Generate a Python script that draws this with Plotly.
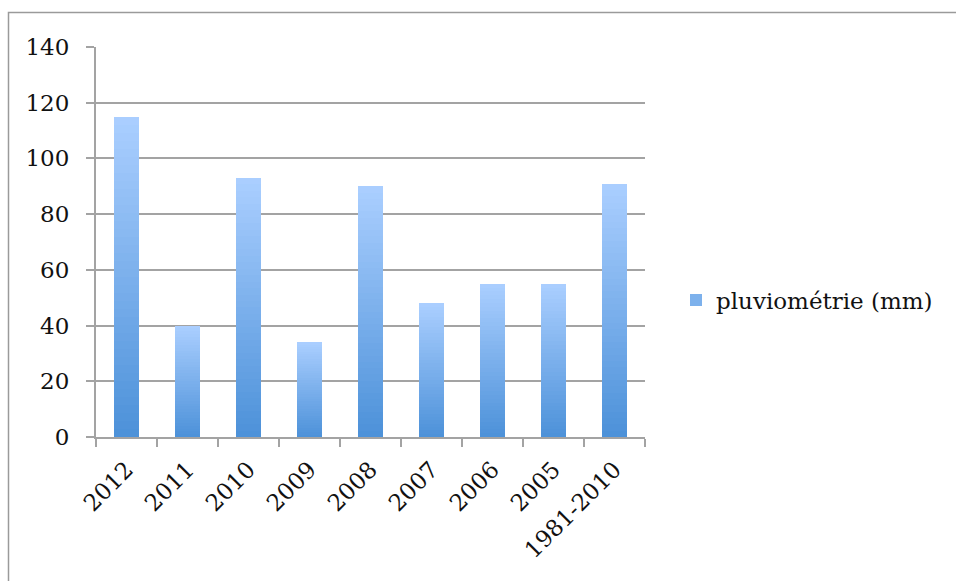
import plotly.graph_objects as go

categories = ["2012", "2011", "2010", "2009", "2008", "2007", "2006", "2005", "1981-2010"]
values = [115, 40, 93, 34, 90, 48, 55, 55, 91]
series_name = "pluviométrie (mm)"
y_ticks = [0, 20, 40, 60, 80, 100, 120, 140]

# gradient approximation: stack N equal slices per bar, dark at bottom, light at top
N = 40
bottom_rgb = (76, 145, 217)
top_rgb = (171, 207, 255)

def lerp(a, b, t):
    return tuple(round(a[i] + (b[i] - a[i]) * t) for i in range(3))

fig = go.Figure()
for k in range(N):
    t = (k + 0.5) / N
    c = lerp(bottom_rgb, top_rgb, t)
    fig.add_trace(go.Bar(
        x=categories,
        y=[v / N for v in values],
        marker=dict(color=f"rgb{c}", line=dict(width=0)),
        name=series_name,
        showlegend=(k == N // 2),
        hoverinfo="skip" if k != N - 1 else None,
    ))

ml, mr, mt, mb = 96, 311, 47, 144
W, H = 956, 581
pw, ph = W - ml - mr, H - mt - mb

def px_x(x):
    return (x - ml) / pw

def px_y(y):
    return (H - mb - y) / ph

grid = "#a3a3a3"
font_family = "DejaVu Serif"
fs = 23

fig.update_layout(
    width=W, height=H,
    margin=dict(l=ml, r=mr, t=mt, b=mb),
    paper_bgcolor="white", plot_bgcolor="white",
    barmode="stack", bargap=0.59,
    font=dict(family=font_family, size=fs, color="#111"),
    showlegend=True,
    legend=dict(x=px_x(676), y=px_y(300), xanchor="left", yanchor="middle",
                font=dict(family=font_family, size=fs, color="#111"),
                bgcolor="rgba(0,0,0,0)"),
    shapes=[dict(type="rect", xref="paper", yref="paper",
                 x0=px_x(8.5), x1=px_x(1000), y0=px_y(640), y1=px_y(12.5),
                 line=dict(color="#9a9a9a", width=1.5), fillcolor="rgba(0,0,0,0)",
                 layer="below")],
)
fig.update_xaxes(
    type="category", tickangle=-45, tickson="boundaries",
    ticks="outside", ticklen=8, tickwidth=2, tickcolor=grid,
    showline=True, linecolor=grid, linewidth=2,
    showgrid=False, ticklabelstandoff=8, tickfont=dict(family=font_family, size=fs),
)
fig.update_yaxes(
    range=[0, 140], tickvals=y_ticks, ticks="outside", ticklen=8, tickwidth=2,
    tickcolor=grid, showline=True, linecolor=grid, linewidth=2,
    showgrid=True, gridcolor=grid, gridwidth=2, zeroline=False,
    ticklabelstandoff=12, tickfont=dict(family=font_family, size=fs),
)

fig.write_html("out.html")
